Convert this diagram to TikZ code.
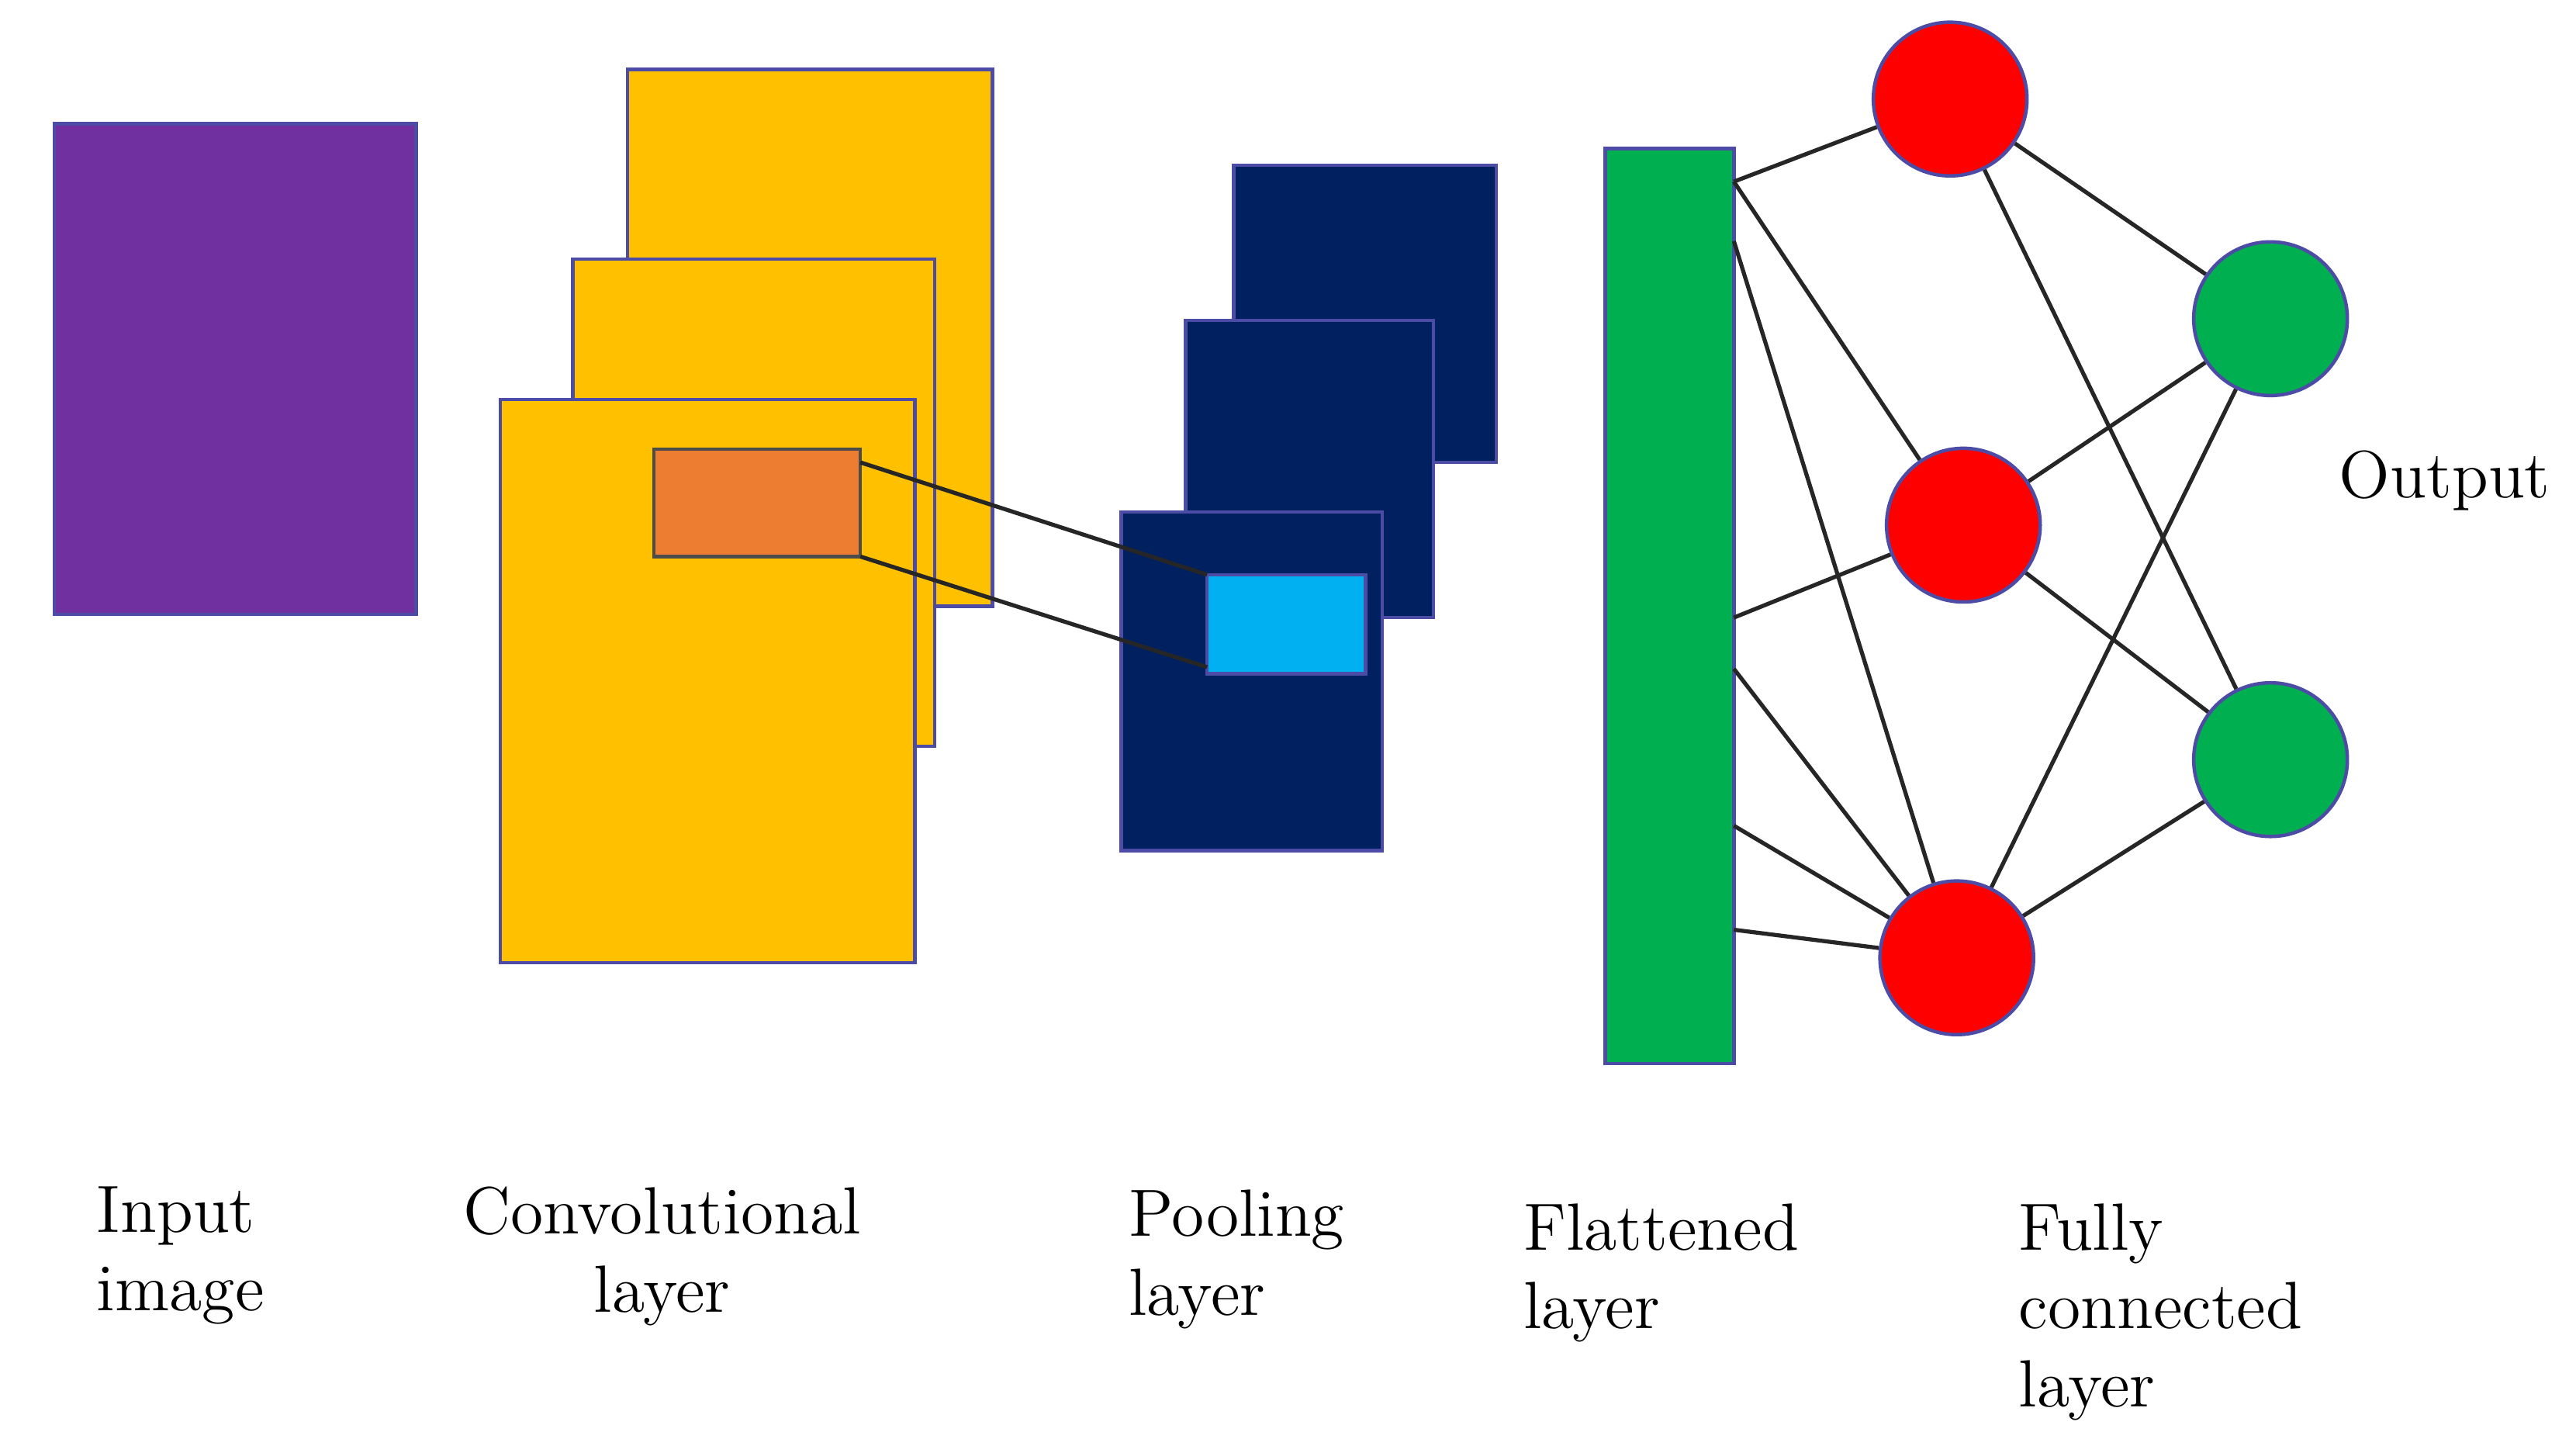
\documentclass[tikz,border=0pt]{standalone}
\begin{document}
\begin{tikzpicture}[x=0.01cm,y=-0.01cm,
  box/.style={draw=blue!50!black!70,line width=0.6pt},
  lab/.style={font=\fontsize{11.5}{13.5}\selectfont,align=left,anchor=north west,inner sep=0},
  neu/.style={circle,draw=blue!50!black!70,line width=0.6pt,minimum size=0.93cm,inner sep=0},
  ln/.style={line width=0.7pt,black!85}]
\definecolor{purp}{HTML}{7030A0}\definecolor{yel}{HTML}{FFC000}
\definecolor{ora}{HTML}{ED7D31}\definecolor{navy}{HTML}{002060}
\definecolor{lblue}{HTML}{00B0F0}\definecolor{grn}{HTML}{00B050}
\definecolor{rd}{HTML}{FF0000}
\useasboundingbox (0,0) rectangle (1560,871);
\fill[white] (0,0) rectangle (1560,871);
\draw[box,fill=purp] (33,75) rectangle (252,372);
\draw[box,fill=yel] (380,42) rectangle (601,367);
\draw[box,fill=yel] (347,157) rectangle (566,452);
\draw[box,fill=yel] (303,242) rectangle (554,583);
\draw[box,fill=ora,draw=black!70] (396,272) rectangle (521,337);
\draw[box,fill=navy] (747,100) rectangle (906,280);
\draw[box,fill=navy] (718,194) rectangle (868,374);
\draw[box,fill=navy] (679,310) rectangle (837,515);
\draw[box,fill=lblue] (731,348) rectangle (827,408);
\coordinate (o1) at (521,280); \coordinate (o2) at (521,337);
\coordinate (b1) at (731,348); \coordinate (b2) at (731,404);
\draw[ln] (o1) -- (b1); \draw[ln] (o2) -- (b2);
\draw[box,fill=grn] (972,90) rectangle (1050,644);
\node[neu,fill=rd] (r1) at (1181,60) {};
\node[neu,fill=rd] (r2) at (1189,318) {};
\node[neu,fill=rd] (r3) at (1185,580) {};
\node[neu,fill=grn] (g1) at (1375,193) {};
\node[neu,fill=grn] (g2) at (1375,460) {};
\coordinate (A) at (1050,110); \coordinate (B) at (1050,146);
\coordinate (C) at (1050,374); \coordinate (D) at (1050,405);
\coordinate (E) at (1050,500); \coordinate (F) at (1050,563);
\draw[ln] (A) -- (r1); \draw[ln] (A) -- (r2); \draw[ln] (B) -- (r3);
\draw[ln] (C) -- (r2); \draw[ln] (D) -- (r3); \draw[ln] (E) -- (r3); \draw[ln] (F) -- (r3);
\foreach \r in {r1,r2,r3}{\foreach \g in {g1,g2}{\draw[ln] (\r) -- (\g);}}
\node[lab] (t1) at (58,718) {Input\\image};
\node[lab,align=center,anchor=north] (t2) at (401,718) {Convolutional\\layer};
\node[lab] (t3) at (683,720) {Pooling\\layer};
\node[lab] (t4) at (922,728) {Flattened\\layer};
\node[lab] (t5) at (1222,728) {Fully\\connected\\layer};
\node[lab] (t6) at (1416,272) {Output};
\end{tikzpicture}
\end{document}
